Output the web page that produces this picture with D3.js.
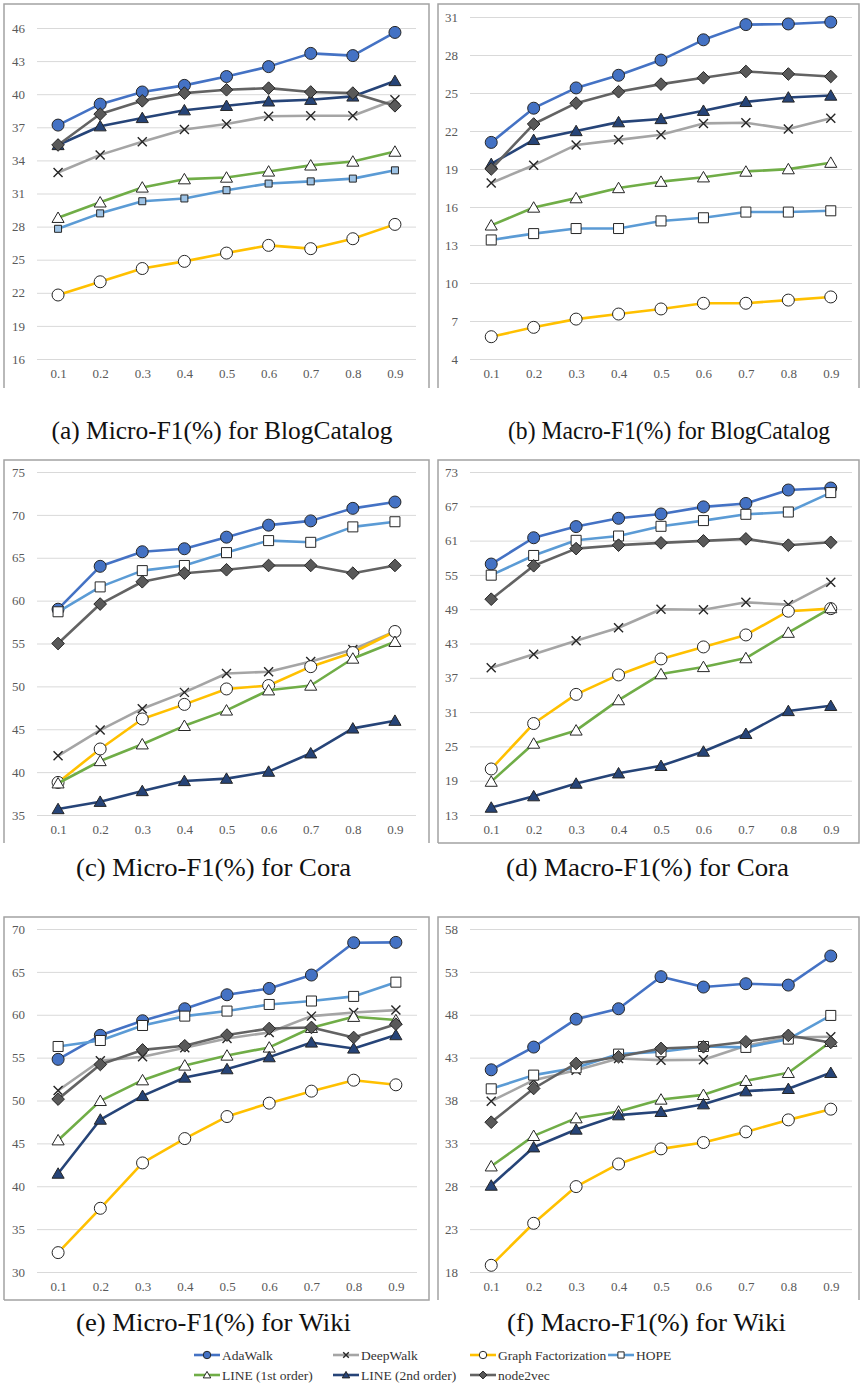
<!DOCTYPE html>
<html>
<head>
<meta charset="utf-8">
<script src="https://cdn.jsdelivr.net/npm/d3@7"></script>
<style>
  html, body { margin: 0; padding: 0; background: #fff; }
  svg { display: block; }
</style>
</head>
<body>
<div id="chart"></div>
<script>
// training ratio on the x axis
var splits = ['0.1', '0.2', '0.3', '0.4', '0.5', '0.6', '0.7', '0.8', '0.9'];

var methods = ['AdaWalk', 'DeepWalk', 'Graph Factorization', 'HOPE',
               'LINE (1st order)', 'LINE (2nd order)', 'node2vec'];

var captions = [
    '(a) Micro-F1(%) for BlogCatalog',
    '(b) Macro-F1(%) for BlogCatalog',
    '(c) Micro-F1(%) for Cora',
    '(d) Macro-F1(%) for Cora',
    '(e) Micro-F1(%) for Wiki',
    '(f) Macro-F1(%) for Wiki'
];

// y tick labels per panel
var blogMicroTicks  = [16, 19, 22, 25, 28, 31, 34, 37, 40, 43, 46];
var blogMacroTicks  = [4, 7, 10, 13, 16, 19, 22, 25, 28, 31];
var coraMicroTicks  = [35, 40, 45, 50, 55, 60, 65, 70, 75];
var coraMacroTicks  = [13, 19, 25, 31, 37, 43, 49, 55, 61, 67, 73];
var wikiMicroTicks  = [30, 35, 40, 45, 50, 55, 60, 65, 70];
var wikiMacroTicks  = [18, 23, 28, 33, 38, 43, 48, 53, 58];

// one row per method, same order as `methods`
var blogMicro = [
    [37.2, 39.1, 40.2, 40.8, 41.6, 42.5, 43.7, 43.5, 45.6],
    [32.9, 34.5, 35.7, 36.8, 37.3, 38.0, 38.05, 38.05, 39.5],
    [21.8, 23.0, 24.2, 24.85, 25.6, 26.3, 26.0, 26.9, 28.2],
    [27.8, 29.2, 30.3, 30.55, 31.3, 31.9, 32.1, 32.35, 33.1],
    [28.8, 30.2, 31.55, 32.3, 32.45, 33.0, 33.55, 33.9, 34.8],
    [35.4, 37.1, 37.85, 38.55, 38.95, 39.35, 39.5, 39.8, 41.2],
    [35.4, 38.2, 39.4, 40.1, 40.4, 40.55, 40.2, 40.1, 38.95]
];
var blogMacro = [
    [21.1, 23.8, 25.4, 26.4, 27.6, 29.2, 30.4, 30.45, 30.6],
    [17.9, 19.3, 20.9, 21.3, 21.7, 22.6, 22.65, 22.15, 23.0],
    [5.76, 6.5, 7.15, 7.55, 7.95, 8.4, 8.4, 8.65, 8.9],
    [13.4, 13.9, 14.3, 14.3, 14.9, 15.15, 15.6, 15.6, 15.7],
    [14.55, 15.96, 16.7, 17.5, 18.0, 18.35, 18.8, 18.99, 19.5],
    [19.4, 21.3, 22.0, 22.7, 22.95, 23.6, 24.3, 24.65, 24.8],
    [19.0, 22.55, 24.2, 25.1, 25.7, 26.2, 26.7, 26.5, 26.3]
];
var coraMicro = [
    [59.0, 64.0, 65.7, 66.05, 67.4, 68.8, 69.3, 70.76, 71.5],
    [41.9, 44.9, 47.4, 49.3, 51.5, 51.7, 52.9, 54.3, 56.4],
    [38.8, 42.7, 46.2, 47.9, 49.7, 50.1, 52.3, 53.95, 56.4],
    [58.7, 61.6, 63.5, 64.1, 65.6, 67.0, 66.8, 68.6, 69.2],
    [38.7, 41.3, 43.25, 45.4, 47.2, 49.55, 50.1, 53.25, 55.2],
    [35.7, 36.55, 37.8, 38.97, 39.24, 40.06, 42.2, 45.1, 46.0],
    [55.0, 59.6, 62.2, 63.2, 63.6, 64.1, 64.1, 63.2, 64.1]
];
var coraMacro = [
    [56.9, 61.5, 63.45, 64.9, 65.66, 66.9, 67.5, 69.85, 70.2],
    [38.75, 41.1, 43.5, 45.75, 49.0, 48.9, 50.2, 49.8, 53.7],
    [21.05, 29.0, 34.1, 37.5, 40.3, 42.4, 44.5, 48.65, 49.1],
    [54.95, 58.4, 61.05, 61.8, 63.5, 64.5, 65.6, 66.0, 69.4],
    [18.84, 25.5, 27.8, 33.1, 37.65, 38.9, 40.45, 44.9, 49.2],
    [14.3, 16.3, 18.5, 20.3, 21.6, 24.1, 27.2, 31.2, 32.1],
    [50.75, 56.6, 59.6, 60.2, 60.6, 60.95, 61.3, 60.2, 60.7]
];
var wikiMicro = [
    [54.8, 57.6, 59.3, 60.7, 62.33, 63.07, 64.63, 68.4, 68.44],
    [51.17, 54.63, 55.1, 56.15, 57.24, 57.94, 59.84, 60.27, 60.54],
    [32.26, 37.43, 42.72, 45.56, 48.13, 49.69, 51.09, 52.37, 51.83],
    [56.3, 57.0, 58.75, 59.84, 60.43, 61.2, 61.6, 62.14, 63.8],
    [45.37, 49.96, 52.37, 54.09, 55.25, 56.19, 58.48, 59.77, 59.38],
    [41.48, 47.78, 50.54, 52.68, 53.66, 55.06, 56.77, 56.07, 57.63],
    [50.16, 54.2, 55.9, 56.38, 57.63, 58.4, 58.52, 57.35, 58.9]
];
var wikiMacro = [
    [41.58, 44.23, 47.49, 48.7, 52.44, 51.23, 51.62, 51.46, 54.85],
    [37.92, 40.37, 41.54, 42.9, 42.7, 42.75, 44.38, 45.35, 45.43],
    [18.78, 23.68, 27.96, 30.6, 32.36, 33.1, 34.34, 35.74, 36.99],
    [39.36, 40.96, 41.81, 43.41, 43.68, 44.3, 44.19, 45.16, 47.92],
    [30.33, 33.88, 35.94, 36.72, 38.12, 38.66, 40.3, 41.23, 44.85],
    [28.08, 32.55, 34.62, 36.29, 36.68, 37.57, 39.09, 39.36, 41.23],
    [35.47, 39.4, 42.32, 43.1, 44.07, 44.26, 44.85, 45.59, 44.77]
];

var panelData  = [blogMicro, blogMacro, coraMicro, coraMacro, wikiMicro, wikiMacro];
var panelTicks = [blogMicroTicks, blogMacroTicks, coraMicroTicks, coraMacroTicks, wikiMicroTicks, wikiMacroTicks];

// ---- layout / styling (no data below this line) ----
var W = 860, H = 1384;
var SERIF = '"Liberation Serif", "Times New Roman", serif';

// box = [x0, y0, x1, y1], plot = [left, right, top, bottom], cap = [cx, baseline, width]
var panelLayout = [
    { box: [4, 4, 429, 388],     plot: [37, 416, 28, 359],   bottom: false, cap: [222, 439, 341], smallSquares: true },
    { box: [438, 4, 859, 388],   plot: [470, 852, 17, 359],  bottom: false, cap: [669, 439, 322] },
    { box: [4, 460, 429, 843],   plot: [37, 416, 472, 815],  bottom: false, cap: [213.5, 876, 275] },
    { box: [438, 460, 859, 843], plot: [470, 852, 472, 815], bottom: true,  cap: [647.5, 876, 283] },
    { box: [4, 917, 429, 1300],  plot: [37, 417, 929, 1272], bottom: true,  cap: [213.5, 1331, 275] },
    { box: [438, 917, 859, 1300], plot: [470, 852, 929, 1272], bottom: false, cap: [646.5, 1331, 279] }
];

// Excel-ish palette
var lineColor  = ['#4472C4', '#A5A5A5', '#FFC000', '#5B9BD5', '#70AD47', '#264478', '#636363'];
var markShape  = ['circle', 'x', 'circle', 'square', 'triangle', 'triangle', 'diamond'];
var markFill   = ['#4472C4', 'none', '#fff', '#fff', '#fff', '#264478', '#595959'];
var markSize   = [6, 4.5, 6, 5, 5.5, 5.5, 5.5];

function markerPath(shape, s) {
    var p = d3.path();
    if (shape === 'circle') {
        p.moveTo(s, 0);
        p.arc(0, 0, s, 0, 2 * Math.PI);
    } else if (shape === 'square') {
        p.rect(-s, -s, 2 * s, 2 * s);
    } else if (shape === 'triangle') {
        p.moveTo(0, -s * 1.05);
        p.lineTo(s * 1.1, s * 0.85);
        p.lineTo(-s * 1.1, s * 0.85);
        p.closePath();
    } else if (shape === 'diamond') {
        p.moveTo(0, -s * 1.15);
        p.lineTo(s * 1.15, 0);
        p.lineTo(0, s * 1.15);
        p.lineTo(-s * 1.15, 0);
        p.closePath();
    } else { // x
        p.moveTo(-s, -s); p.lineTo(s, s);
        p.moveTo(-s, s);  p.lineTo(s, -s);
    }
    return p.toString();
}

function drawMarker(g, i, x, y, scale, fill) {
    var s = markSize[i] * (scale || 1);
    g.append('path')
        .attr('transform', 'translate(' + x + ',' + y + ')')
        .attr('d', markerPath(markShape[i], s))
        .attr('fill', fill || markFill[i])
        .attr('stroke', '#262626')
        .attr('stroke-width', markShape[i] === 'x' ? 1.4 : 1);
}

function styleTicks(a) {
    a.select('.domain').remove();
    a.selectAll('text')
        .style('font-family', SERIF)
        .style('font-size', '13px')
        .attr('fill', '#595959');
}

var svg = d3.select('#chart').append('svg')
    .attr('width', W).attr('height', H)
    .attr('viewBox', '0 0 ' + W + ' ' + H);

panelLayout.forEach(function (lay, pi) {
    var g = svg.append('g').attr('class', 'panel');
    var b = lay.box, pl = lay.plot;
    var ticks = panelTicks[pi];

    // frame (some panels lose the bottom edge in the original)
    var frame = 'M' + b[0] + ',' + b[3] + 'V' + b[1] + 'H' + b[2] + 'V' + b[3];
    if (lay.bottom) frame += 'H' + b[0];
    g.append('path').attr('d', frame)
        .attr('fill', 'none').attr('stroke', '#a3a3a3').attr('stroke-width', 1.5);

    var x = d3.scalePoint().domain(splits).range([pl[0], pl[1]]).padding(0.5);
    var y = d3.scaleLinear().domain([ticks[0], ticks[ticks.length - 1]]).range([pl[3], pl[2]]);

    // grid
    g.append('g')
        .attr('transform', 'translate(' + pl[0] + ',0)')
        .call(d3.axisRight(y).tickValues(ticks).tickSize(pl[1] - pl[0]).tickFormat(''))
        .call(function (a) {
            a.select('.domain').remove();
            a.selectAll('line').attr('stroke', '#d9d9d9').attr('stroke-width', 1);
        });

    // y labels
    g.append('g')
        .attr('transform', 'translate(' + pl[0] + ',0)')
        .call(d3.axisLeft(y).tickValues(ticks).tickSize(0).tickPadding(12))
        .call(styleTicks);

    // x labels
    g.append('g')
        .attr('transform', 'translate(0,' + pl[3] + ')')
        .call(d3.axisBottom(x).tickSize(0).tickPadding(10))
        .call(styleTicks);

    var line = d3.line()
        .x(function (d, j) { return x(splits[j]); })
        .y(function (d) { return y(d); });

    panelData[pi].forEach(function (vals, mi) {
        var sg = g.append('g').attr('class', 'series');
        sg.append('path')
            .attr('d', line(vals))
            .attr('fill', 'none')
            .attr('stroke', lineColor[mi])
            .attr('stroke-width', 2.6)
            .attr('stroke-linejoin', 'round');
        // panel (a) has small tinted HOPE squares
        var small = lay.smallSquares && markShape[mi] === 'square';
        vals.forEach(function (v, j) {
            drawMarker(sg, mi, x(splits[j]), y(v), small ? 0.7 : 1, small ? '#9dc3e6' : null);
        });
    });

    g.append('text')
        .attr('x', lay.cap[0]).attr('y', lay.cap[1])
        .attr('text-anchor', 'middle')
        .attr('textLength', lay.cap[2])
        .attr('lengthAdjust', 'spacingAndGlyphs')
        .style('font-family', SERIF)
        .style('font-size', '25px')
        .attr('fill', '#111')
        .text(captions[pi]);
});

// legend: two rows
var legendPos = [[194, 1355], [333, 1355], [470, 1355], [608, 1355],
                 [194, 1375], [333, 1375], [470, 1375]];
var legend = svg.append('g').attr('class', 'legend');
methods.forEach(function (name, i) {
    var p = legendPos[i];
    var lg = legend.append('g');
    lg.append('line')
        .attr('x1', p[0]).attr('x2', p[0] + 26)
        .attr('y1', p[1]).attr('y2', p[1])
        .attr('stroke', lineColor[i]).attr('stroke-width', 2.6);
    drawMarker(lg, i, p[0] + 13, p[1], 0.62);
    lg.append('text')
        .attr('x', p[0] + 28).attr('y', p[1])
        .attr('dy', '0.34em')
        .style('font-family', SERIF)
        .style('font-size', '13.5px')
        .attr('fill', '#333')
        .text(name);
});
</script>
</body>
</html>
